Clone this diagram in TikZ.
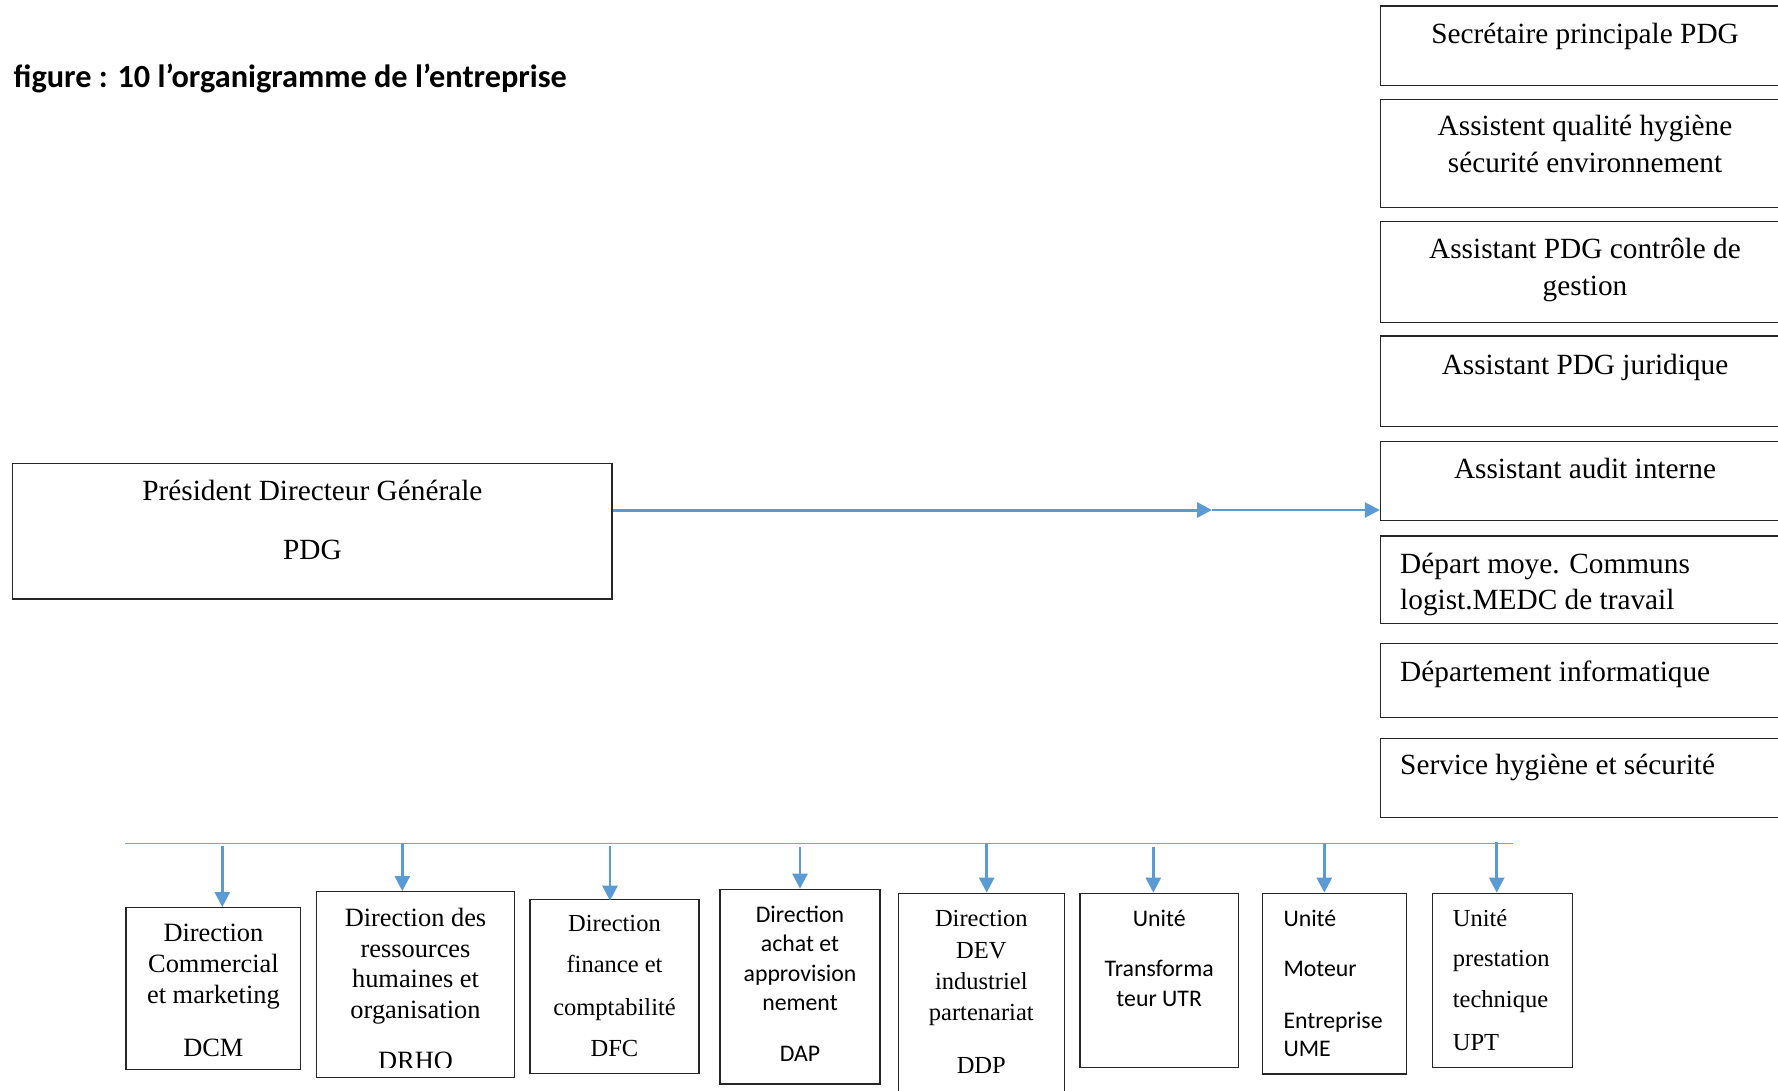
\documentclass[tikz,border=0pt]{standalone}
\usepackage{fontspec}
\setmainfont{Liberation Serif}
\newfontfamily\calibri{Carlito}
\usetikzlibrary{arrows.meta,fit}
\definecolor{linkblue}{HTML}{5B9BD5}
\definecolor{busblue}{HTML}{70A7DC}

\begin{document}
\begin{tikzpicture}[x=1pt,y=-1pt,
  box/.style={draw=black!85, line width=1.3pt, inner sep=0pt, fit={#1}},
  mainarrow/.style={draw=linkblue, line width=3pt, -{Triangle[length=15pt,width=15pt]}},
  bus/.style={draw=busblue, line width=1.6pt},
  drop/.style={draw=linkblue, line width=2.6pt, -{Triangle[length=15pt,width=15pt]}},
  txt/.style={anchor=base, inner sep=0pt},
  ltxt/.style={anchor=base west, inner sep=0pt},
  rfont/.style={font=\fontsize{29.3}{34}\selectfont},
  pfont/.style={font=\fontsize{29.3}{34}\selectfont},
  sfont/.style={font=\fontsize{26.4}{31}\selectfont},
  tfont/.style={font=\fontsize{24.5}{29}\selectfont},
  cfont/.style={font=\calibri\fontsize{23.8}{28}\selectfont},
]
\clip (0,0) rectangle (1778,1090);
\fill[white] (0,0) rectangle (1778,1090);

% caption
\node[ltxt, font=\calibri\bfseries\fontsize{32.3}{37}\selectfont] (title) at (13.5,87.5) {figure : 10 l’organigramme de l’entreprise};

% president
\node[box={(12.7,463.3) (612,599)}] (pdg) {};
\node[txt, pfont] (pdg-1) at (312.4,500) {Président Directeur Générale};
\node[txt, pfont] (pdg-2) at (312.4,559) {PDG};

% staff units on the right
\node[box={(1380.5,6) (1800,85.3)}] (r1) {};
\node[box={(1380.5,99.3) (1800,207.3)}] (r2) {};
\node[box={(1380.5,221.7) (1800,322.7)}] (r3) {};
\node[box={(1380.5,336) (1800,426.7)}] (r4) {};
\node[box={(1380.5,441.7) (1800,520.7)}] (r5) {};
\node[box={(1380.5,536) (1800,623.3)}] (r6) {};
\node[box={(1380.5,643.3) (1800,717.3)}] (r7) {};
\node[box={(1380.5,738.3) (1800,817.7)}] (r8) {};

\foreach \yy/\tx [count=\k] in {43.3/Secrétaire principale PDG,
  135.5/Assistent qualité hygiène, 172.5/sécurité environnement,
  258.3/Assistant PDG contrôle de, 295/gestion,
  374/Assistant PDG juridique, 478.3/Assistant audit interne}
  \node[txt, rfont] (rt-\k) at (1585,\yy) {\tx};
\foreach \yy/\tx [count=\k] in {573.5/Départ moye. Communs,
  609.5/logist.MEDC de travail, 681/Département informatique,
  774.5/Service hygiène et sécurité}
  \node[ltxt, rfont] (rl-\k) at (1400,\yy) {\tx};

% link from the president to the staff units
\coordinate (mid) at (1212,510);
\draw[mainarrow] (pdg.east |- mid) -- (mid);
\draw[mainarrow, line width=2.4pt] (mid) -- (mid -| r5.west);

% directions and units
\node[box={(126,907.7) (300.7,1069.3)}] (dcm) {};
\node[box={(316.7,891.7) (514.3,1077.7)}] (drho) {};
\node[box={(530,899.3) (699,1073.3)}] (dfc) {};
\node[box={(720,889.3) (880,1084)}] (dap) {};
\node[box={(898.3,893.3) (1064.3,1100)}] (ddp) {};
\node[box={(1080,893.3) (1238.3,1067.3)}] (utr) {};
\node[box={(1262.7,893.3) (1406.7,1074)}] (ume) {};
\node[box={(1432.7,893.3) (1572.7,1067.3)}] (upt) {};

\foreach \yy/\tx [count=\k] in {941.7/Direction, 972.7/Commercial,
  1003.3/et marketing, 1056/DCM}
  \node[txt, sfont] (dcm-\k) at (213.4,\yy) {\tx};
\foreach \yy/\tx [count=\k] in {926/Direction des, 957.7/ressources,
  987.7/humaines et, 1018.3/organisation}
  \node[txt, sfont] (drho-\k) at (415.5,\yy) {\tx};
\begin{scope}
  \clip (316.7,1040) rectangle (514.3,1067.3);
  \node[txt, sfont] (drho-5) at (415.5,1069.7) {DRHO};
\end{scope}
\foreach \yy/\tx [count=\k] in {931.7/Direction, 972.7/finance et,
  1015/comptabilité, 1056/DFC}
  \node[txt, tfont] (dfc-\k) at (614.5,\yy) {\tx};
\foreach \yy/\tx [count=\k] in {922.7/Direction, 951.7/achat et,
  981.7/approvision, 1010/nement, 1061.7/DAP}
  \node[txt, cfont] (dap-\k) at (800,\yy) {\tx};
\foreach \yy/\tx [count=\k] in {926/Direction, 958.3/DEV,
  989.3/industriel, 1020/partenariat, 1073.3/DDP}
  \node[txt, tfont] (ddp-\k) at (981.3,\yy) {\tx};
\foreach \yy/\tx [count=\k] in {926.7/Unité, 976.7/Transforma,
  1006.7/teur UTR}
  \node[txt, cfont] (utr-\k) at (1159.2,\yy) {\tx};
\foreach \yy/\tx [count=\k] in {926.7/Unité, 976.7/Moteur,
  1028.3/Entreprise, 1056.7/UME}
  \node[ltxt, cfont] (ume-\k) at (1283.3,\yy) {\tx};
\foreach \yy/\tx [count=\k] in {926/Unité, 966.7/prestation,
  1007.7/technique, 1050/UPT}
  \node[ltxt, tfont] (upt-\k) at (1452.7,\yy) {\tx};

% distribution bus and drops
\coordinate (busL) at (125,843.3);
\coordinate (busR) at (1512.7,843.3);
\draw[bus] (busL) -- (busR);
\coordinate (d1) at (222.3,846);
\coordinate (d2) at (402.3,843);
\coordinate (d3) at (610,846);
\coordinate (d4) at (800,846.7);
\coordinate (d5) at (986.7,843);
\coordinate (d6) at (1153.3,846.7);
\coordinate (d7) at (1324.3,843);
\coordinate (d8) at (1496.7,841.7);
\draw[drop] (d1) -- (d1 |- dcm.north);
\draw[drop] (d2) -- (d2 |- drho.north);
\draw[drop] (d3) -- ([yshift=-2pt]d3 |- dfc.north);
\draw[drop] (d4) -- (d4 |- dap.north);
\draw[drop] (d5) -- (d5 |- ddp.north);
\draw[drop] (d6) -- (d6 |- utr.north);
\draw[drop] (d7) -- (d7 |- ume.north);
\draw[drop] (d8) -- (d8 |- upt.north);
\end{tikzpicture}
\end{document}
